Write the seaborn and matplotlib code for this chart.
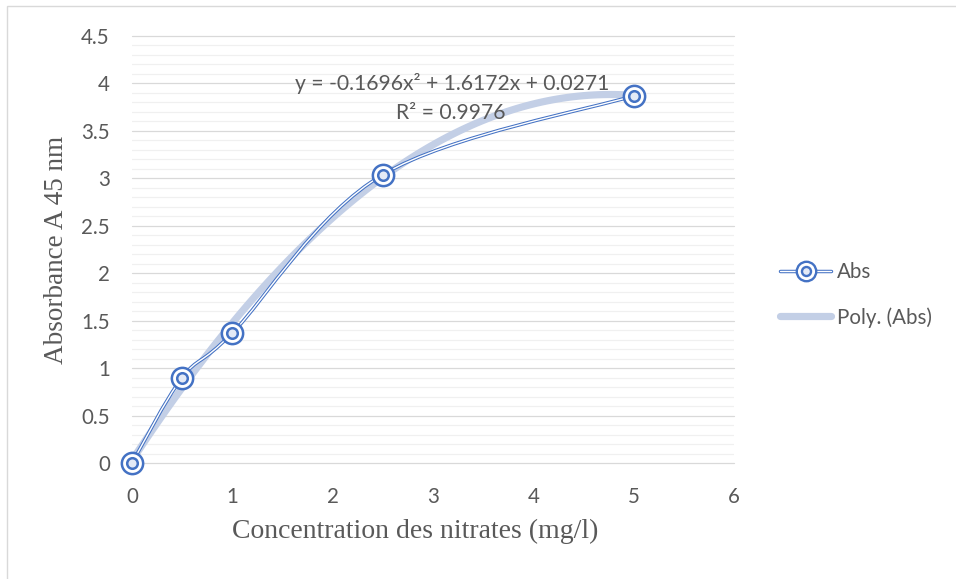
import numpy as np
import matplotlib
matplotlib.use('Agg')
import matplotlib.pyplot as plt
import seaborn as sns
from matplotlib.path import Path
from matplotlib.patches import PathPatch, Rectangle
from matplotlib.lines import Line2D
from matplotlib.legend_handler import HandlerTuple
from matplotlib.ticker import MultipleLocator


# Values
concentration = [0, 0.5, 1, 2.5, 5]
absorbance = [0, 0.9, 1.37, 3.04, 3.87]

x_ticks = [0, 1, 2, 3, 4, 5, 6]
x_tick_labels = ['0', '1', '2', '3', '4', '5', '6']
y_ticks = [0, 0.5, 1, 1.5, 2, 2.5, 3, 3.5, 4, 4.5]
y_tick_labels = ['0', '0.5', '1', '1.5', '2', '2.5', '3', '3.5', '4', '4.5']

equation_text = 'y = -0.1696x² + 1.6172x + 0.0271'
r2_text = 'R² = 0.9976'
series_label = 'Abs'
trend_label = 'Poly. (Abs)'
x_label = 'Concentration des nitrates (mg/l)'
y_label = 'Absorbance A 45 nm'

BLUE = '#4472C4'
TREND = '#C3CFE6'
GREY_TEXT = '#595959'
FS = 14.8


# Excel style smoothed line (Catmull-Rom bezier through the points)
def smooth_path(xs, ys):
    pts = np.column_stack([xs, ys]).astype(float)
    padded = np.vstack([pts[0], pts, pts[-1]])
    verts = [pts[0]]
    codes = [Path.MOVETO]
    for i in range(len(pts) - 1):
        p0, p1, p2, p3 = padded[i], padded[i + 1], padded[i + 2], padded[i + 3]
        c1 = p1 + (p2 - p0) / 6
        c2 = p2 - (p3 - p1) / 6
        verts += [c1, c2, p2]
        codes += [Path.CURVE4] * 3
    return Path(verts, codes)


sns.set_theme(style='white')
plt.rcParams['font.family'] = ['Lato', 'DejaVu Sans']

W, H = 956, 579
fig = plt.figure(figsize=(W / 100, H / 100), dpi=100)
ax = fig.add_axes([132 / W, 116 / H, 602 / W, 427 / H])

# polynomial trendline (order 2), fitted by seaborn
sns.regplot(x=concentration, y=absorbance, order=2, ci=None, scatter=False, ax=ax,
            line_kws=dict(color=TREND, lw=5.2, solid_capstyle='round', zorder=2))

# double smoothed series line
path = smooth_path(concentration, absorbance)
ax.add_patch(PathPatch(path, fill=False, edgecolor=BLUE, lw=2.5, zorder=3, capstyle='round'))
ax.add_patch(PathPatch(path, fill=False, edgecolor='white', lw=1.0, zorder=3.1))

# double ring markers
sns.scatterplot(x=concentration, y=absorbance, ax=ax, marker='o', s=235, color='white',
                edgecolor=BLUE, linewidth=1.8, zorder=4, clip_on=False)
sns.scatterplot(x=concentration, y=absorbance, ax=ax, marker='o', s=58, color='#E4EAF6',
                edgecolor=BLUE, linewidth=1.8, zorder=5, clip_on=False)

ax.set_xlim(0, 6)
ax.set_ylim(0, 4.5)
ax.set_xticks(x_ticks)
ax.set_xticklabels(x_tick_labels)
ax.set_yticks(y_ticks)
ax.set_yticklabels(y_tick_labels)
ax.yaxis.set_minor_locator(MultipleLocator(0.1))
ax.grid(which='major', axis='y', color='#D9D9D9', lw=0.9, zorder=0)
ax.grid(which='minor', axis='y', color='#F0F0F0', lw=0.9, zorder=0)
ax.grid(which='both', axis='x', visible=False)
for gl in ax.get_ygridlines():
    gl.set_clip_on(False)
ax.tick_params(which='both', length=0, labelsize=FS, colors=GREY_TEXT)
ax.tick_params(axis='y', pad=16)
ax.tick_params(axis='x', pad=17)
ax.set_axisbelow(True)
sns.despine(ax=ax, left=True, bottom=True)
ax.set_xlabel('')
ax.set_ylabel('')

# axis titles
fig.text(415 / W, 1 - 531 / H, x_label, ha='center', va='center', fontsize=20,
         family='Liberation Serif', color=GREY_TEXT)
fig.text(57 / W, 1 - 250 / H, y_label, ha='center', va='center', rotation=90, fontsize=19.5,
         family='Liberation Serif', color=GREY_TEXT)

# trendline equation
fig.text(452 / W, 1 - 84 / H, equation_text, ha='center', va='center', fontsize=15.2, color=GREY_TEXT)
fig.text(451 / W, 1 - 113 / H, r2_text, ha='center', va='center', fontsize=15.2, color=GREY_TEXT)

# legend
abs_handle = (
    Line2D([], [], color=BLUE, lw=2.5),
    Line2D([], [], color='white', lw=1.0),
    Line2D([], [], ls='none', marker='o', ms=14, mfc='white', mec=BLUE, mew=1.7),
    Line2D([], [], ls='none', marker='o', ms=6.5, mfc='#E4EAF6', mec=BLUE, mew=1.7),
)
poly_handle = Line2D([], [], color=TREND, lw=5.2, solid_capstyle='round')
fig.legend(handles=[abs_handle, poly_handle], labels=[series_label, trend_label],
           loc='center left', bbox_to_anchor=(780 / W, 1 - 295 / H), frameon=False,
           handler_map={tuple: HandlerTuple(ndivide=1, pad=0)}, handlelength=2.5,
           handletextpad=0.25, labelspacing=1.2, borderpad=0, borderaxespad=0,
           fontsize=FS, labelcolor=GREY_TEXT)

# chart border
fig.patches.append(Rectangle((7 / W, -0.01), 1.02, 1 - 6 / H + 0.01, transform=fig.transFigure,
                             fill=False, edgecolor='#D9D9D9', lw=1))

fig.savefig('out.png', dpi=100)
